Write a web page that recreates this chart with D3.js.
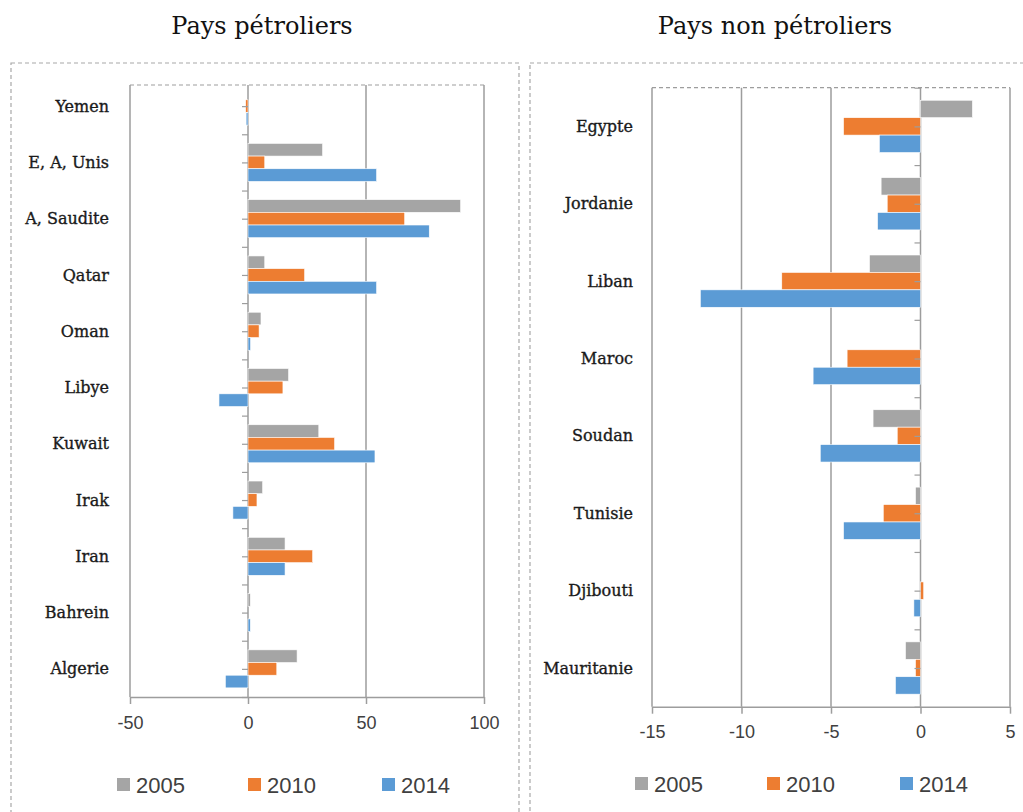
<!DOCTYPE html>
<html>
<head>
<meta charset="utf-8">
<script src="https://cdn.jsdelivr.net/npm/d3@7"></script>
<style>
  body { margin: 0; background: #fff; }
  svg { display: block; }
</style>
</head>
<body>
<script>
// Data
var series = ["2005", "2010", "2014"];
var colors = ["#a5a5a5", "#ed7d31", "#5b9bd5"];

var oilCountries = ["Yemen", "E, A, Unis", "A, Saudite", "Qatar", "Oman", "Libye",
                    "Kuwait", "Irak", "Iran", "Bahrein", "Algerie"];
var oil2005 = [0, 31.6, 90.1, 7.1, 5.5, 17.2, 30.0, 6.2, 15.7, 1.0, 20.8];
var oil2010 = [-1.0, 7.1, 66.4, 24.0, 4.7, 14.8, 36.7, 3.8, 27.4, 0, 12.2];
var oil2014 = [-0.8, 54.5, 76.8, 54.5, 1.1, -12.3, 53.8, -6.4, 15.7, 1.0, -9.6];
var oilTicks = [-50, 0, 50, 100];

var nonOilCountries = ["Egypte", "Jordanie", "Liban", "Maroc", "Soudan", "Tunisie",
                       "Djibouti", "Mauritanie"];
var non2005 = [2.9, -2.2, -2.85, 0, -2.65, -0.28, 0, -0.84];
var non2010 = [-4.3, -1.86, -7.75, -4.1, -1.3, -2.08, 0.18, -0.28];
var non2014 = [-2.3, -2.4, -12.3, -6.0, -5.6, -4.3, -0.37, -1.4];
var nonTicks = [-15, -10, -5, 0, 5];

var width = 1023, height = 812;
var gridColor = "#9d9d9d";
var serif = "'DejaVu Serif', serif";
var sans = "'Liberation Sans', Arial, sans-serif";

var svg = d3.select("body").append("svg")
            .attr("width", width)
            .attr("height", height);

function drawPanel(cfg) {
  var g = svg.append("g");

  // outer dashed chart box
  g.append("rect")
   .attr("x", cfg.box[0]).attr("y", cfg.box[1])
   .attr("width", cfg.box[2]).attr("height", cfg.box[3])
   .attr("fill", "none")
   .attr("stroke", "#a8a8a8")
   .attr("stroke-width", 1.2)
   .attr("stroke-dasharray", "4,3");

  // title
  g.append("text")
   .attr("x", cfg.titleX).attr("y", 34)
   .attr("text-anchor", "middle")
   .attr("font-family", serif)
   .attr("font-size", "24px")
   .attr("fill", "#111")
   .text(cfg.title);

  var x = d3.scaleLinear().domain(cfg.domain).range(cfg.xRange);
  var y = d3.scaleBand().domain(cfg.cats).range(cfg.yRange).padding(0);
  var sub = d3.scaleBand().domain(series).range([0, y.bandwidth()])
              .paddingInner(0).paddingOuter(0.72);
  var idx = d3.scaleLinear().domain([0, cfg.cats.length]).range(cfg.yRange);

  // dashed plot-area top
  g.append("line")
   .attr("x1", cfg.xRange[0]).attr("x2", cfg.xRange[1])
   .attr("y1", cfg.gridTop).attr("y2", cfg.gridTop)
   .attr("stroke", gridColor).attr("stroke-width", 1.2)
   .attr("stroke-dasharray", "4,3");

  // vertical gridlines (the 0 line doubles as the category axis)
  g.selectAll(".grid")
   .data(cfg.ticks)
   .enter().append("line")
   .attr("x1", function(d) { return x(d); })
   .attr("x2", function(d) { return x(d); })
   .attr("y1", cfg.gridTop)
   .attr("y2", cfg.yRange[1])
   .attr("stroke", gridColor)
   .attr("stroke-width", 1.5);

  // bars
  var rows = [];
  cfg.cats.forEach(function(c, i) {
    cfg.values.forEach(function(vals, s) {
      rows.push({ cat: c, s: s, v: vals[i] });
    });
  });
  g.selectAll(".bar")
   .data(rows)
   .enter().append("rect")
   .attr("x", function(d) { return x(Math.min(0, d.v)); })
   .attr("y", function(d) { return y(d.cat) + sub(series[d.s]); })
   .attr("width", function(d) { return Math.abs(x(d.v) - x(0)); })
   .attr("height", sub.bandwidth())
   .attr("fill", function(d) { return colors[d.s]; })
   .attr("stroke", "#fff")
   .attr("stroke-width", 0.6);

  // category axis ticks on the zero line
  var tv = d3.range(0, cfg.cats.length + 0.5, 0.5)
             .filter(function(t) { return idx(t) >= cfg.gridTop; });
  var catAxis = d3.axisLeft(idx)
                  .tickValues(tv)
                  .tickSize(6)
                  .tickSizeOuter(0)
                  .tickFormat("");
  var ca = g.append("g")
            .attr("transform", "translate(" + x(0) + ",0)")
            .call(catAxis);
  ca.select(".domain").remove();
  ca.selectAll(".tick line").attr("stroke", gridColor).attr("stroke-width", 1.2);

  // category labels
  g.selectAll(".cat")
   .data(cfg.cats)
   .enter().append("text")
   .attr("x", cfg.labelX)
   .attr("y", function(d) { return y(d) + y.bandwidth() / 2; })
   .attr("dy", "0.35em")
   .attr("text-anchor", "end")
   .attr("font-family", serif)
   .attr("font-size", "16px")
   .attr("fill", "#1a1a1a")
   .attr("stroke", "#1a1a1a")
   .attr("stroke-width", 0.35)
   .text(function(d) { return d; });

  // value axis
  var xAxis = d3.axisBottom(x).tickValues(cfg.ticks).tickSize(7).tickPadding(12)
                .tickSizeOuter(0)
                .tickFormat(function(d) { return String(d); });
  var xa = g.append("g")
            .attr("transform", "translate(0," + cfg.yRange[1] + ")")
            .call(xAxis);
  xa.select(".domain").attr("stroke", gridColor).attr("stroke-width", 1.5);
  xa.selectAll(".tick line").attr("stroke", gridColor).attr("stroke-width", 1.5);
  xa.selectAll(".tick text")
    .attr("font-family", sans)
    .attr("font-size", "18px")
    .attr("fill", "#404040");

  // legend
  var lg = g.selectAll(".leg")
            .data(series)
            .enter().append("g")
            .attr("transform", function(d, i) {
              return "translate(" + cfg.legendX[i] + "," + cfg.legendY + ")";
            });
  lg.append("rect")
    .attr("x", 0).attr("y", -7)
    .attr("width", 13).attr("height", 13)
    .attr("fill", function(d, i) { return colors[i]; });
  lg.append("text")
    .attr("x", 19).attr("y", 0)
    .attr("dy", "0.36em")
    .attr("font-family", sans)
    .attr("font-size", "22px")
    .attr("fill", "#404040")
    .text(function(d) { return d; });
}

drawPanel({
  title: "Pays pétroliers",
  titleX: 262,
  box: [11, 63, 508, 760],
  cats: oilCountries,
  values: [oil2005, oil2010, oil2014],
  domain: [-50, 100],
  ticks: oilTicks,
  xRange: [130, 484],
  yRange: [78, 697],
  gridTop: 85,
  labelX: 109,
  legendX: [117, 248, 382],
  legendY: 785
});

drawPanel({
  title: "Pays non pétroliers",
  titleX: 775,
  box: [530, 63, 510, 760],
  cats: nonOilCountries,
  values: [non2005, non2010, non2014],
  domain: [-15, 5],
  ticks: nonTicks,
  xRange: [652, 1010],
  yRange: [87.7, 706.7],
  gridTop: 87.7,
  labelX: 633,
  legendX: [635, 767, 900],
  legendY: 784
});
</script>
</body>
</html>
